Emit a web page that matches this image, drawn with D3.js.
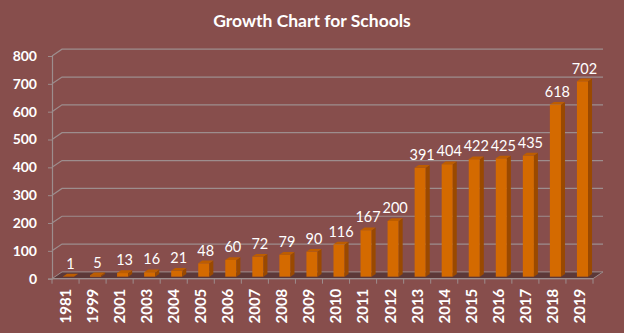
<!DOCTYPE html>
<html>
<head>
<meta charset="utf-8">
<script src="https://cdn.jsdelivr.net/npm/d3@7/dist/d3.min.js"></script>
<style>
body { margin: 0; background: #874e4c; }
svg { display: block; }
</style>
</head>
<body>
<div id="chart"></div>
<script>
var years = ["1981","1999","2001","2003","2004","2005","2006","2007","2008","2009","2010","2011","2012","2013","2014","2015","2016","2017","2018","2019"];
var schools = [1,5,13,16,21,48,60,72,79,90,116,167,200,391,404,422,425,435,618,702];
var yTicks = [0,100,200,300,400,500,600,700,800];

var width = 624, height = 333;
// depth offset of the back wall (pseudo 3D)
var dx = 10, dy = -6.8;

var svg = d3.select("#chart").append("svg")
  .attr("width", width)
  .attr("height", height);

svg.append("rect").attr("width", width).attr("height", height).attr("fill", "#874e4c");

var x = d3.scaleBand().domain(years).range([52, 593]);
var y = d3.scaleLinear().domain([0, 800]).range([278.7, 56]);

var font = "Lato, 'Open Sans', sans-serif";

// title
svg.append("text")
  .attr("x", 312)
  .attr("y", 27)
  .attr("text-anchor", "middle")
  .style("font-family", font)
  .style("font-weight", "bold")
  .style("font-size", "17.5px")
  .attr("fill", "#fff")
  .text("Growth Chart for Schools");

// floor
var f0 = y(0);
svg.append("path")
  .attr("d", "M52," + f0 + "L593," + f0 + "L" + (593 + dx) + "," + (f0 + dy) + "L" + (52 + dx) + "," + (f0 + dy) + "Z")
  .attr("fill", "#5c3838")
  .attr("stroke", "#9d8d8d")
  .attr("stroke-width", 1);

// gridlines on back wall + left wall diagonals
var grid = svg.append("g");
yTicks.forEach(function(t) {
  if (t === 0) return;
  var yy = y(t);
  grid.append("path")
    .attr("d", "M52," + yy + "L" + (52 + dx) + "," + (yy + dy) + "L" + (593 + dx) + "," + (yy + dy))
    .attr("fill", "none")
    .attr("stroke", "#9d8d8d")
    .attr("stroke-width", 1.2);
});

// left axis
svg.append("g")
  .attr("transform", "translate(52,0)")
  .call(d3.axisLeft(y).tickValues(yTicks).tickSize(4).tickPadding(11))
  .call(function(g) {
    g.select(".domain").attr("stroke", "#9d8d8d").attr("stroke-width", 1.2);
    g.selectAll(".tick line").attr("stroke", "#9d8d8d");
    g.selectAll("text")
      .attr("fill", "#fff")
      .style("font-family", font)
      .style("font-weight", "bold")
      .style("font-size", "14px");
  });

// bottom axis
var xAxis = svg.append("g")
  .attr("transform", "translate(0," + f0 + ")");
xAxis.append("line")
  .attr("x1", 52).attr("x2", 593)
  .attr("stroke", "#9d8d8d").attr("stroke-width", 1.2);
xAxis.selectAll(".tk")
  .data(years.concat(["end"]))
  .enter().append("line")
  .attr("x1", function(d, i) { return 52 + i * x.step(); })
  .attr("x2", function(d, i) { return 52 + i * x.step(); })
  .attr("y1", 0).attr("y2", 5)
  .attr("stroke", "#9d8d8d");
xAxis.selectAll(".lbl")
  .data(years)
  .enter().append("text")
  .attr("transform", function(d) { return "translate(" + (x(d) + x.bandwidth() / 2) + ",10) rotate(-90)"; })
  .attr("dy", "0.36em")
  .attr("text-anchor", "end")
  .attr("fill", "#fff")
  .style("font-family", font)
  .style("font-weight", "bold")
  .style("font-size", "15px")
  .text(function(d) { return d; });

// bars
var z0 = 0.3, z1 = 0.7;
var bw = x.bandwidth() * 0.41;
var bars = svg.append("g").selectAll("g")
  .data(years.map(function(d, i) { return { year: d, v: schools[i] }; }))
  .enter().append("g");

function pt(px, py) { return px + "," + py; }

bars.each(function(d) {
  var g = d3.select(this);
  var cx = x(d.year) + x.bandwidth() / 2;
  var ox = z0 * dx, oy = z0 * dy;
  var ddx = (z1 - z0) * dx, ddy = (z1 - z0) * dy;
  var xl = cx - bw / 2 + ox, xr = cx + bw / 2 + ox;
  var yb = y(0) + oy, yt = y(d.v) + oy;
  // front
  g.append("rect")
    .attr("x", xl).attr("y", yt)
    .attr("width", xr - xl).attr("height", yb - yt)
    .attr("fill", "#d46a00");
  // side
  g.append("path")
    .attr("d", "M" + pt(xr, yt) + "L" + pt(xr + ddx, yt + ddy) + "L" + pt(xr + ddx, yb + ddy) + "L" + pt(xr, yb) + "Z")
    .attr("fill", "#9a4900");
  // top
  g.append("path")
    .attr("d", "M" + pt(xl, yt) + "L" + pt(xl + ddx, yt + ddy) + "L" + pt(xr + ddx, yt + ddy) + "L" + pt(xr, yt) + "Z")
    .attr("fill", "#bd5d00");
  // value label
  g.append("text")
    .attr("x", cx + ox + ddx / 2)
    .attr("y", yt + ddy - 5)
    .attr("text-anchor", "middle")
    .attr("fill", "#fff")
    .style("font-family", font)
    .style("font-size", "14.5px")
    .text(d.v);
});
</script>
</body>
</html>
